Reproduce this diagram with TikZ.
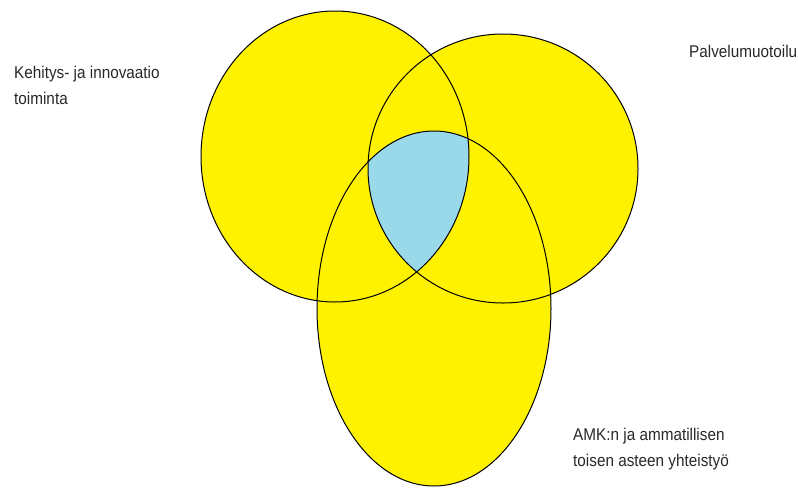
\documentclass[tikz,border=0pt]{standalone}
\usepackage{fontspec}
\newfontfamily\lblfont[FakeStretch=0.9]{Liberation Sans}
\definecolor{vyellow}{RGB}{255,242,0}
\definecolor{vblue}{RGB}{153,217,234}
\definecolor{vtext}{RGB}{40,40,40}
\begin{document}
\begin{tikzpicture}[x=1pt,y=-1pt,
  setfill/.style={fill=vyellow},
  setline/.style={draw=black,line width=1pt},
  lbl/.style={font=\lblfont\fontsize{17}{20}\selectfont,text=vtext,inner sep=0pt,anchor=base west}]
\useasboundingbox (0,0) rectangle (798,488);
% fills
\fill[setfill] (335,156.5) ellipse [x radius=134,y radius=145.5];
\fill[setfill] (503,168.5) ellipse [x radius=135,y radius=134.5];
\fill[setfill] (434,308.5) ellipse [x radius=117,y radius=177.5];
% triple intersection
\begin{scope}
  \clip (335,156.5) ellipse [x radius=134,y radius=145.5];
  \clip (503,168.5) ellipse [x radius=135,y radius=134.5];
  \fill[vblue] (434,308.5) ellipse [x radius=117,y radius=177.5];
\end{scope}
% outlines
\draw[setline] (335,156.5) ellipse [x radius=134,y radius=145.5];
\draw[setline] (503,168.5) ellipse [x radius=135,y radius=134.5];
\draw[setline] (434,308.5) ellipse [x radius=117,y radius=177.5];
% labels
\node[lbl] (k1) at (14,78) {Kehitys- ja innovaatio};
\node[lbl] (k2) at (14,104) {toiminta};
\node[lbl] (p1) at (689,57) {Palvelumuotoilu};
\node[lbl] (a1) at (573,440) {AMK:n ja ammatillisen};
\node[lbl] (a2) at (573,466) {toisen asteen yhteistyö};
\end{tikzpicture}
\end{document}
